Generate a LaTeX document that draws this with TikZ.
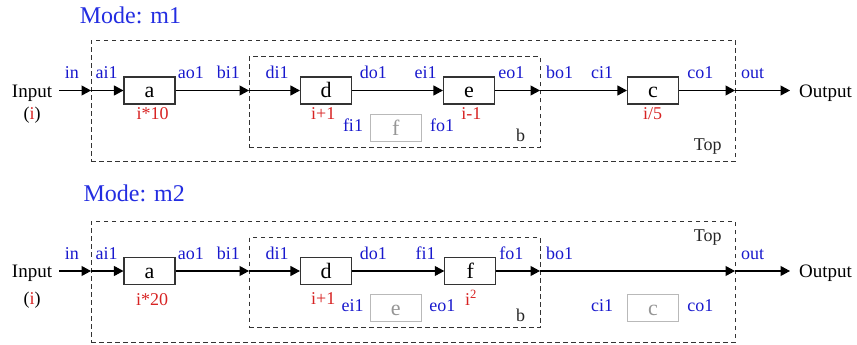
\documentclass[tikz,border=0pt]{standalone}
\usepackage{fontspec}
\setmainfont{Liberation Serif}
\usetikzlibrary{arrows.meta}
\definecolor{portblue}{RGB}{25,25,205}
\definecolor{modeblue}{RGB}{35,45,225}
\definecolor{exprred}{RGB}{215,35,35}
\definecolor{offgray}{RGB}{185,185,185}
\definecolor{offtext}{RGB}{150,150,150}
\tikzset{
  port/.style={font=\fontsize{18}{20}\selectfont, text=portblue, anchor=base, inner sep=0},
  expr/.style={font=\fontsize{18}{20}\selectfont, text=exprred, anchor=base, inner sep=0},
  caption/.style={font=\fontsize{18}{20}\selectfont, text=black!85, anchor=base, inner sep=0},
  modetitle/.style={font=\fontsize{24}{26}\selectfont, text=modeblue, anchor=base, inner sep=0},
  block/.style={draw=black!80, line width=1.1pt, minimum width=51pt, minimum height=27pt,
    inner sep=0, text height=15pt, text depth=0pt, font=\fontsize{22}{24}\selectfont},
  offblock/.style={block, draw=offgray, text=offtext},
  frame/.style={draw=black!80, line width=0.9pt, dash pattern=on 4.5pt off 3.5pt,
    inner sep=0, rectangle},
  flow/.style={line width=1.1pt, -{Triangle[length=9.5pt,width=10pt]}},
  io/.style={font=\fontsize{19}{21}\selectfont, inner ysep=0, text height=14pt, text depth=1pt},
}
\begin{document}
\begin{tikzpicture}[x=1pt,y=-1pt]
\useasboundingbox (0,0) rectangle (857,345);

% ---------------- mode m1 ----------------
\node[modetitle] (mode1) at (130.5,24) {Mode: m1};
\node[frame, minimum width=644pt, minimum height=121pt] (top1) at (413,100.5) {};
\node[frame, minimum width=291pt, minimum height=90.6pt] (b1) at (394.5,102) {};
\node[caption] (toplbl1) at (707.8,150) {Top};
\node[caption] (blbl1) at (520.5,141) {b};

\node[io, anchor=east, inner xsep=6.7pt] (input1) at (59,90.5) {Input};
\node[caption, text=black] (iarg1) at (32,119.5) {(\textcolor{exprred}{i})};
\node[io, anchor=west, inner xsep=9pt] (output1) at (790,90.5) {Output};

\node[block] (a1) at (149.5,90.5) {a};
\node[block] (d1) at (326,90.5) {d};
\node[block] (e1) at (469,90.5) {e};
\node[block] (c1) at (653,90.5) {c};
\node[offblock] (f1) at (395.7,127.7) {f};

\coordinate (tl1) at (91,90.5);
\coordinate (bl1) at (249,90.5);
\coordinate (br1) at (540,90.5);
\coordinate (tr1) at (735,90.5);

\draw[flow] (input1.east) -- (tl1);
\draw[flow] (tl1) -- (a1.west);
\draw[flow] (a1.east) -- (bl1);
\draw[flow] (bl1) -- (d1.west);
\draw[flow] (d1.east) -- (e1.west);
\draw[flow] (e1.east) -- (br1);
\draw[flow] (br1) -- (c1.west);
\draw[flow] (c1.east) -- (tr1);
\draw[flow] (tr1) -- (output1.west);

\node[port] (pin1) at (71.8,78.3) {in};
\node[port] (pai1) at (106.7,78.3) {ai1};
\node[port] (pao1) at (190.8,78.3) {ao1};
\node[port] (pbi1) at (228.3,78.3) {bi1};
\node[port] (pdi1) at (277.2,78.3) {di1};
\node[port] (pdo1) at (373.3,78.3) {do1};
\node[port] (pei1) at (425.5,78.3) {ei1};
\node[port] (peo1) at (511.3,78.3) {eo1};
\node[port] (pbo1) at (559.5,78.3) {bo1};
\node[port] (pci1) at (602,78.3) {ci1};
\node[port] (pco1) at (700.3,78.3) {co1};
\node[port] (pout1) at (752.5,78.3) {out};
\node[port] (pfi1) at (353,131.7) {fi1};
\node[port] (pfo1) at (442.2,131.7) {fo1};

\node[expr] (xa1) at (152.5,119.3) {i*10};
\node[expr] (xd1) at (323.3,119.3) {i+1};
\node[expr] (xe1) at (471.3,119.3) {i-1};
\node[expr] (xc1) at (652.7,119.3) {i/5};

% ---------------- mode m2 ----------------
\node[modetitle] (mode2) at (134.2,201.7) {Mode: m2};
\node[frame, minimum width=644pt, minimum height=121pt] (top2) at (413,281.5) {};
\node[frame, minimum width=291pt, minimum height=90pt] (b2) at (394.5,282.7) {};
\node[caption] (toplbl2) at (707.8,241.7) {Top};
\node[caption] (blbl2) at (520.5,321.7) {b};

\node[io, anchor=east, inner xsep=6.7pt] (input2) at (59,271) {Input};
\node[caption, text=black] (iarg2) at (32,304) {(\textcolor{exprred}{i})};
\node[io, anchor=west, inner xsep=9pt] (output2) at (790,271) {Output};

\node[block] (a2) at (149.5,271) {a};
\node[block] (d2) at (326,271) {d};
\node[block] (f2) at (470.3,271) {f};
\node[offblock] (e2) at (395.7,307.7) {e};
\node[offblock] (c2) at (653,307.7) {c};

\coordinate (tl2) at (91,271);
\coordinate (bl2) at (249,271);
\coordinate (br2) at (540,271);
\coordinate (tr2) at (735,271);

\draw[flow] (input2.east) -- (tl2);
\draw[flow] (tl2) -- (a2.west);
\draw[flow] (a2.east) -- (bl2);
\draw[flow] (bl2) -- (d2.west);
\draw[flow] (d2.east) -- (f2.west);
\draw[flow] (f2.east) -- (br2);
\draw[flow] (br2) -- (tr2);
\draw[flow] (tr2) -- (output2.west);

\node[port] (pin2) at (71.8,259.5) {in};
\node[port] (pai2) at (106.7,259.5) {ai1};
\node[port] (pao2) at (190.8,259.5) {ao1};
\node[port] (pbi2) at (228.3,259.5) {bi1};
\node[port] (pdi2) at (277.2,259.5) {di1};
\node[port] (pdo2) at (373.3,259.5) {do1};
\node[port] (pfi2) at (425.5,259.5) {fi1};
\node[port] (pfo2) at (511.3,259.5) {fo1};
\node[port] (pbo2) at (559.5,259.5) {bo1};
\node[port] (pout2) at (752.5,259.5) {out};
\node[port] (pei2) at (352.5,311.7) {ei1};
\node[port] (peo2) at (442.3,311.7) {eo1};
\node[port] (pci2) at (602,311.7) {ci1};
\node[port] (pco2) at (700.3,311.7) {co1};

\node[expr] (xa2) at (152.2,305) {i*20};
\node[expr] (xd2) at (323.3,304.3) {i+1};
\node[expr, anchor=base west] (xf2) at (465,305) {i\textsuperscript{2}};
\end{tikzpicture}
\end{document}
